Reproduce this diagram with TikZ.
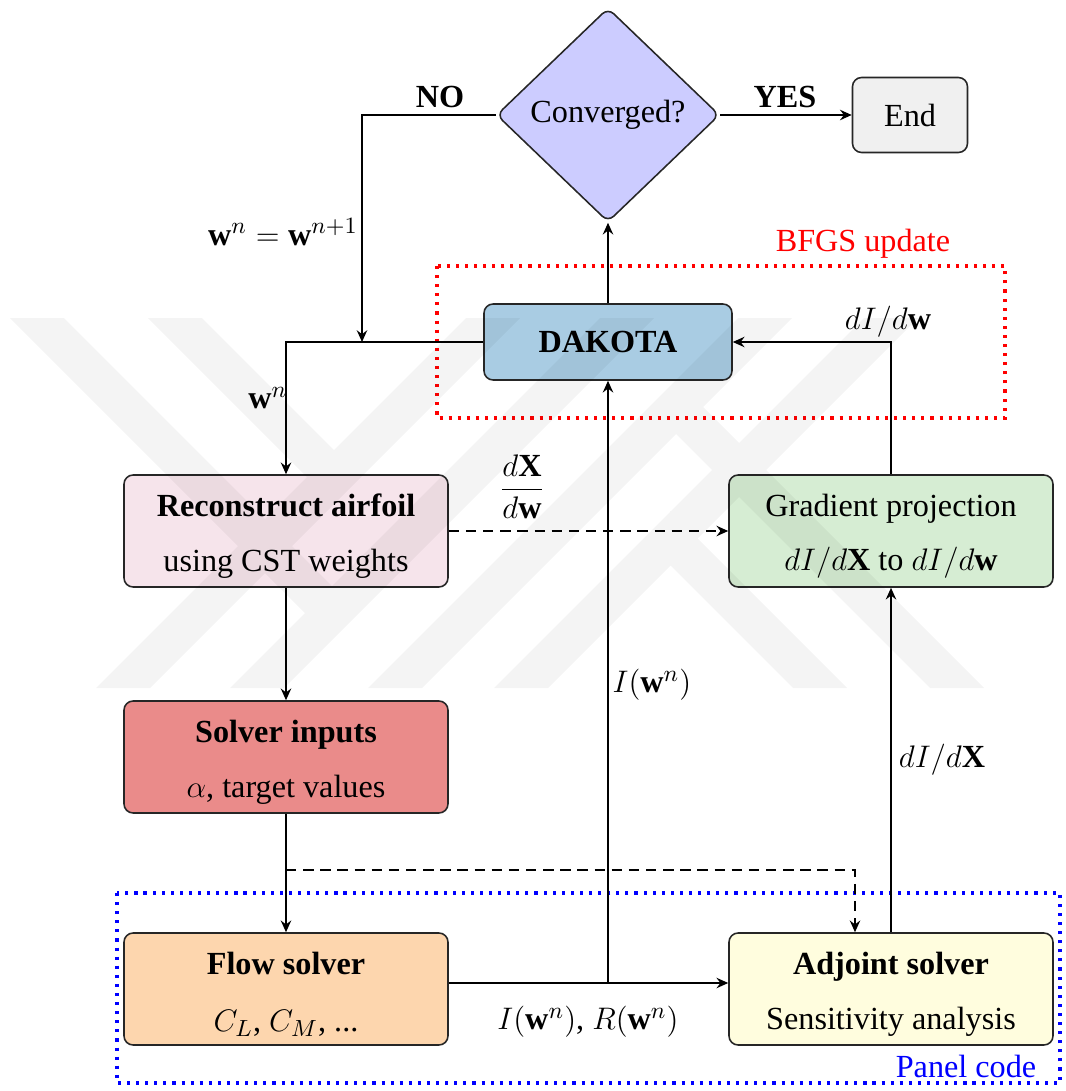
\documentclass[tikz,border=0pt]{standalone}
\usepackage{fontspec}
\setmainfont{Liberation Serif}
\usetikzlibrary{shapes.geometric,arrows.meta}
\newlength\upx
\setlength\upx{0.385pt}
\definecolor{cdiam}{RGB}{204,204,255}
\definecolor{cend}{RGB}{240,240,240}
\definecolor{cdak}{RGB}{169,204,227}
\definecolor{crec}{RGB}{246,228,235}
\definecolor{cgrad}{RGB}{214,237,211}
\definecolor{csol}{RGB}{234,139,138}
\definecolor{cflow}{RGB}{253,214,174}
\definecolor{cadj}{RGB}{255,253,222}
\newcommand{\topstrut}{\rule{0pt}{12.5pt}}
\begin{document}
\begin{tikzpicture}[x=0.385pt,y=-0.385pt,
  font=\fontsize{12.4}{14}\selectfont,
  box/.style={draw=black!85, line width=0.6pt, rounded corners=3.5pt,
    minimum width=324\upx, minimum height=112\upx, align=center, inner sep=0pt},
  diam/.style={diamond, draw=black!85, line width=0.6pt, fill=cdiam, aspect=1,
    minimum width=223\upx, minimum height=214\upx, inner sep=0pt, rounded corners=3pt},
  conn/.style={line width=0.9pt},
  arr/.style={conn, -{Stealth[length=4.5pt,width=4pt,inset=1.5pt]}},
  dsh/.style={dash pattern=on 4pt off 2.6pt},
  lab/.style={inner sep=0pt},
  region/.style={line width=1.2pt, dash pattern=on 1.2pt off 2.3pt}]
\useasboundingbox (0,0) rectangle (1065,1091);

% regions
\draw[region, red] (437,266) rectangle (1005,418);
\node[lab, text=red] (bfgs) at (863,244) {BFGS update};
\draw[region, blue] (117,893) rectangle (1060,1083);
\node[lab, text=blue] (panel) at (966,1066) {Panel code};

% nodes
\node[diam] (conv) at (608,115) {\raisebox{-2pt}{Converged?}};
\node[box, fill=cend, minimum width=115\upx, minimum height=75\upx] (end) at (910,115) {End};
\node[box, fill=cdak, minimum width=248\upx, minimum height=76\upx] (dak) at (608,342) {\textbf{DAKOTA}};
\node[box, fill=crec] (rec) at (286,531) {\topstrut\textbf{Reconstruct airfoil}\\[7pt]using CST weights};
\node[box, fill=cgrad] (grad) at (891,531) {\topstrut Gradient projection\\[7pt]$dI/d\mathbf{X}$ to $dI/d\mathbf{w}$};
\node[box, fill=csol] (sol) at (286,757) {\topstrut\textbf{Solver inputs}\\[7pt]$\alpha$, target values};
\node[box, fill=cflow] (flow) at (286,989) {\topstrut\textbf{Flow solver}\\[8pt]$C_L$, $C_M$, ...};
\node[box, fill=cadj] (adj) at (891,989) {\topstrut\textbf{Adjoint solver}\\[7pt]Sensitivity analysis};

% helper coordinates
\coordinate (nojoin) at (362,342);
\coordinate (ijoin) at (608,983);
\coordinate (dsplit) at (286,870);
\coordinate (dcorner) at (855,870);

% connectors
\draw[arr] (conv.west) -| (nojoin);
\draw[arr] (conv.east) -- (end.west);
\draw[arr] (dak.north) -- (conv.south);
\draw[arr] (dak.west) -| (rec.north);
\draw[arr] (grad.north) |- (dak.east);
\draw[arr, dsh] (rec.east) -- (grad.west);
\draw[arr] (rec.south) -- (sol.north);
\draw[arr] (sol.south) -- (flow.north);
\draw[arr, dsh] (dsplit) -- (dcorner) -- (dcorner |- adj.north);
\draw[arr] (flow.east |- ijoin) -- (adj.west |- ijoin);
\draw[arr] (ijoin) -- (dak.south);
\draw[arr] (adj.north) -- (grad.south);

% labels
\node[lab] (nolab) at (440,97) {\textbf{NO}};
\node[lab] (yeslab) at (785,97) {\textbf{YES}};
\node[lab] (wupd) at (283,232) {$\mathbf{w}^n=\mathbf{w}^{n+1}$};
\node[lab] (wn) at (268,398) {$\mathbf{w}^n$};
\node[lab] (didw) at (888,322) {$dI/d\mathbf{w}$};
\node[lab] (dxdw) at (522,487) {$\displaystyle\frac{d\mathbf{X}}{d\mathbf{w}}$};
\node[lab] (iw) at (652,685) {$I(\mathbf{w}^n)$};
\node[lab] (didx) at (942,760) {$dI/d\mathbf{X}$};
\node[lab] (irw) at (588,1022) {$I(\mathbf{w}^n)$, $R(\mathbf{w}^n)$};

% watermark
\fill[black, opacity=0.045, nonzero rule]
  (466,318) -- (520,318) -- (150,688) -- (96,688) -- cycle
  (600,318) -- (654,318) -- (284,688) -- (230,688) -- cycle
  (738,318) -- (792,318) -- (422,688) -- (368,688) -- cycle
  (864,318) -- (918,318) -- (548,688) -- (494,688) -- cycle
  (10,318) -- (64,318) -- (332,586) -- (332,640) -- cycle
  (148,318) -- (202,318) -- (334,450) -- (334,504) -- cycle
  (670,511) -- (847,688) -- (793,688) -- (670,565) -- cycle
  (676,380) -- (984,688) -- (930,688) -- (676,434) -- cycle;
\end{tikzpicture}
\end{document}
